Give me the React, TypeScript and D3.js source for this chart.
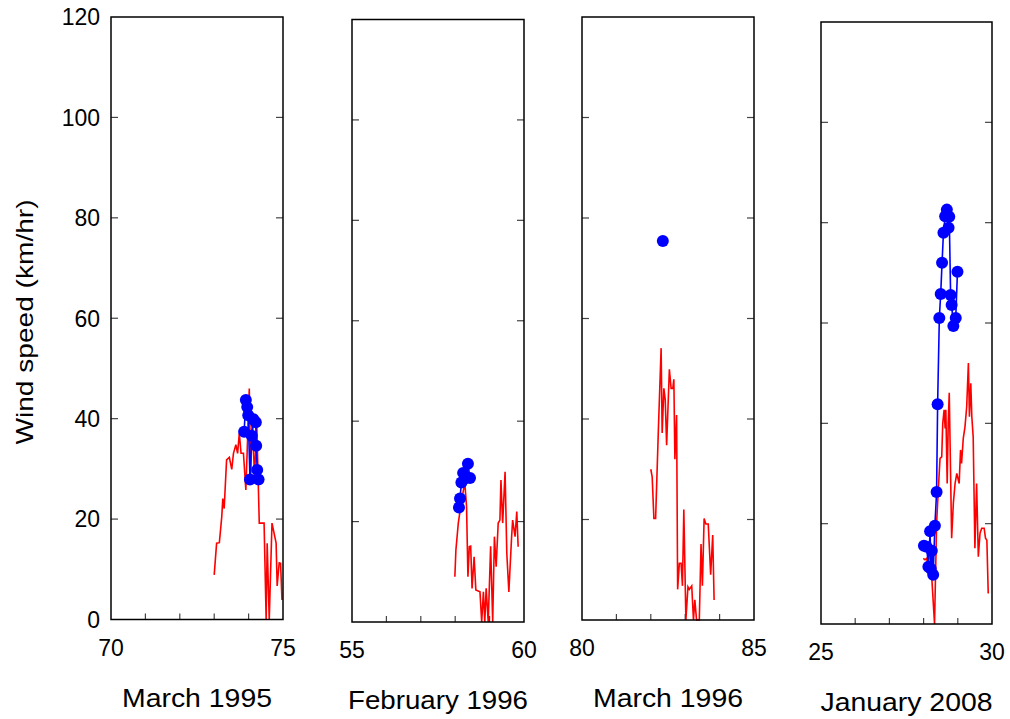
import React from 'react';
import * as d3 from 'd3';

// ---- data (x = day, y = wind speed km/hr) ----
const mar1995Red: [number, number][] = [
  [73.0, 8.9], [73.07, 15.2], [73.15, 15.3], [73.22, 20.5], [73.25, 24.1], [73.29, 22.1],
  [73.36, 31.8], [73.44, 32.3], [73.51, 29.9], [73.56, 33.1], [73.63, 34.8], [73.68, 33.1],
  [73.73, 37.1], [73.78, 33.1], [73.85, 33.1], [73.92, 25.8], [73.96, 33.8], [74.02, 46.0],
  [74.06, 28.4], [74.11, 40.4], [74.17, 28.4], [74.24, 38.4], [74.31, 19.2], [74.45, 19.2],
  [74.51, 0], [74.54, 15.2], [74.6, 0], [74.68, 19.2], [74.8, 15.2], [74.83, 6.7],
  [74.89, 11.3], [74.93, 11.2], [74.97, 3.9]
];
const mar1995Blue: [number, number][] = [
  [73.87, 37.4], [73.92, 43.7], [73.96, 42.3], [73.99, 40.7], [74.04, 27.9], [74.09, 36.6],
  [74.14, 39.9], [74.21, 39.3], [74.22, 34.6], [74.25, 29.8], [74.29, 27.9]
];

const feb1996Red: [number, number][] = [
  [57.99, 9.0], [58.02, 14.3], [58.09, 19.7], [58.16, 23.0], [58.24, 26.3], [58.28, 27.6],
  [58.33, 23.0], [58.37, 9.0], [58.41, 15.0], [58.45, 15.1], [58.49, 6.7], [58.55, 13.0],
  [58.6, 6.4], [58.72, 6.0], [58.77, 0], [58.82, 6.0], [58.86, 0], [58.9, 6.7],
  [58.96, 0], [59.03, 15.1], [59.09, 0], [59.14, 17.0], [59.19, 11.0], [59.25, 19.7],
  [59.3, 20.3], [59.33, 28.3], [59.38, 19.7], [59.45, 29.9], [59.5, 13.7], [59.56, 6.0],
  [59.64, 17.0], [59.67, 20.3], [59.74, 17.0], [59.79, 22.0], [59.83, 15.0]
];
const feb1996Blue: [number, number][] = [
  [58.11, 22.8], [58.14, 24.6], [58.18, 27.8], [58.23, 29.7], [58.28, 28.6], [58.37, 31.5],
  [58.43, 28.7]
];

const mar1996Red: [number, number][] = [
  [82.0, 30.0], [82.04, 28.5], [82.09, 20.2], [82.14, 20.2], [82.22, 37.8], [82.3, 54.1],
  [82.33, 37.2], [82.38, 46.1], [82.42, 43.8], [82.46, 34.8], [82.54, 49.9], [82.59, 46.1],
  [82.64, 46.1], [82.67, 47.9], [82.7, 32.0], [82.75, 40.8], [82.78, 6.1], [82.83, 11.3],
  [82.88, 11.3], [82.92, 6.8], [82.96, 22.0], [83.02, 0], [83.08, 6.6], [83.12, 6.1],
  [83.19, 6.8], [83.24, 0], [83.28, 4.0], [83.33, 0], [83.41, 0], [83.46, 15.1],
  [83.5, 6.8], [83.55, 20.2], [83.6, 19.1], [83.67, 19.1], [83.74, 9.0], [83.8, 16.9],
  [83.84, 4.0]
];
const mar1996Blue: [number, number][] = [[82.35, 75.4]];

const jan2008Red: [number, number][] = [
  [27.99, 13.1], [28.04, 12.8], [28.09, 13.1], [28.14, 10.8], [28.19, 9.1], [28.24, 9.1],
  [28.32, 0], [28.38, 20.1], [28.43, 26.7], [28.48, 33.0], [28.53, 33.3], [28.56, 40.0],
  [28.6, 42.7], [28.63, 39.0], [28.65, 42.7], [28.69, 28.0], [28.72, 40.0], [28.75, 46.1],
  [28.82, 17.1], [28.87, 24.1], [28.92, 28.0], [28.97, 30.0], [29.04, 28.0], [29.08, 34.7],
  [29.11, 32.0], [29.16, 37.0], [29.21, 39.3], [29.26, 43.3], [29.31, 52.0], [29.34, 41.3],
  [29.38, 48.0], [29.41, 41.3], [29.45, 37.3], [29.5, 15.1], [29.55, 28.0], [29.6, 13.4],
  [29.65, 18.1], [29.7, 19.1], [29.77, 19.1], [29.81, 17.1], [29.85, 16.7], [29.89, 6.1]
];
const jan2008Blue: [number, number][] = [
  [28.01, 15.6], [28.09, 15.4], [28.14, 11.4], [28.19, 18.5], [28.21, 11.0], [28.24, 14.6],
  [28.28, 9.8], [28.33, 19.6], [28.38, 26.3], [28.41, 43.8], [28.46, 61.0], [28.5, 65.8],
  [28.54, 72.0], [28.58, 78.0], [28.63, 81.3], [28.68, 82.6], [28.73, 79.0], [28.75, 81.2],
  [28.79, 65.6], [28.82, 63.6], [28.87, 59.4], [28.94, 61.0], [28.99, 70.2]
];

const yTicks = [0, 20, 40, 60, 80, 100, 120];
const panelTitles = ['March 1995', 'February 1996', 'March 1996', 'January 2008'];
const panelDomains: [number, number][] = [[70, 75], [55, 60], [80, 85], [25, 30]];

// frame boxes of the four panels (pixels)
const frames = [
  { left: 111, right: 283, top: 17, bottom: 619.5, titleW: 150 },
  { left: 352, right: 524, top: 19.5, bottom: 622, titleW: 180 },
  { left: 582, right: 754, top: 17, bottom: 620, titleW: 150 },
  { left: 821, right: 992, top: 22, bottom: 624, titleW: 172 }
];
const series = [
  [mar1995Red, mar1995Blue],
  [feb1996Red, feb1996Blue],
  [mar1996Red, mar1996Blue],
  [jan2008Red, jan2008Blue]
];

const FONT = '"Liberation Sans", Arial, Helvetica, sans-serif';

function Panel({ idx }: { idx: number }) {
  const f = frames[idx];
  const [dom0, dom1] = panelDomains[idx];
  const x = d3.scaleLinear().domain([dom0, dom1]).range([f.left, f.right]);
  const y = d3.scaleLinear().domain([0, 120]).range([f.bottom, f.top]);
  const line = d3.line<[number, number]>().x(d => x(d[0])).y(d => y(d[1]));
  const [red, blue] = series[idx];
  const xTicks = d3.range(dom0 + 1, dom1);
  const innerY = yTicks.filter(t => t > 0 && t < 120);

  return (
    <g>
      <path d={line(red) || ''} fill="none" stroke="#ff0000" strokeWidth={1.6} />
      <path d={line(blue) || ''} fill="none" stroke="#0000ff" strokeWidth={1.6} />
      {blue.map((d, i) => (
        <circle key={i} cx={x(d[0])} cy={y(d[1])} r={6} fill="#0000ff" />
      ))}
      {innerY.map(t => (
        <g key={t} stroke="#444" strokeWidth={1.2}>
          <line x1={f.left} x2={f.left + 7} y1={y(t)} y2={y(t)} />
          <line x1={f.right} x2={f.right - 7} y1={y(t)} y2={y(t)} />
        </g>
      ))}
      {xTicks.map(t => (
        <line key={t} x1={x(t)} x2={x(t)} y1={f.bottom} y2={f.bottom - 6} stroke="#444" strokeWidth={1.2} />
      ))}
      <rect x={f.left} y={f.top} width={f.right - f.left} height={f.bottom - f.top}
        fill="none" stroke="#000" strokeWidth={1.5} />
      {[dom0, dom1].map(t => (
        <text key={t} x={x(t)} y={f.bottom + 36} textAnchor="middle" fontSize={23} fontFamily={FONT}>{t}</text>
      ))}
      <text x={(f.left + f.right) / 2} y={f.bottom + 87}
        textAnchor="middle" fontSize={26} fontFamily={FONT}
        textLength={f.titleW} lengthAdjust="spacingAndGlyphs">{panelTitles[idx]}</text>
      {idx === 0 && yTicks.map(t => (
        <text key={t} x={f.left - 11} y={y(t)} dy="0.36em" textAnchor="end" fontSize={23} fontFamily={FONT}>{t}</text>
      ))}
    </g>
  );
}

export default function App() {
  return (
    <svg width={1010} height={719} style={{ position: 'absolute', left: 0, top: 0, background: '#fff' }}>
      <rect width={1010} height={719} fill="#fff" />
      {frames.map((_, i) => <Panel key={i} idx={i} />)}
      <text transform="translate(33,322) rotate(-90)" textAnchor="middle" fontSize={24} fontFamily={FONT}
        textLength={245} lengthAdjust="spacingAndGlyphs">Wind speed (km/hr)</text>
    </svg>
  );
}
